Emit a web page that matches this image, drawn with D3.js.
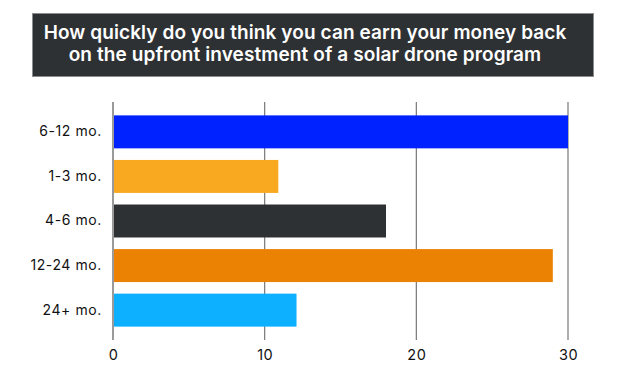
<!DOCTYPE html>
<html>
<head>
<meta charset="utf-8">
<script src="https://cdn.jsdelivr.net/npm/d3@7"></script>
<style>
  body { margin: 0; background: #fff; }
  text { font-family: Inter, "Open Sans", sans-serif; }
</style>
</head>
<body>
<div id="chart"></div>
<script>
// data
const categories = ["6-12 mo.", "1-3 mo.", "4-6 mo.", "12-24 mo.", "24+ mo."];
const values = [30, 10.9, 18, 29, 12.1];
const barColors = ["#0022ff", "#f8a920", "#2e3134", "#ec8204", "#0db0ff"];
const tickValues = [0, 10, 20, 30];
const titleLines = [
  "How quickly do you think you can earn your money back",
  "on the upfront investment of a solar drone program"
];

const svgWidth = 624;
const svgHeight = 379;
const margin = { top: 102, right: 56, bottom: 39, left: 113 };
const width = svgWidth - margin.left - margin.right;
const height = svgHeight - margin.top - margin.bottom;

const svg = d3.select("#chart")
  .append("svg")
  .attr("width", svgWidth)
  .attr("height", svgHeight);

// title box
svg.append("rect")
  .attr("x", 32.5)
  .attr("y", 13.5)
  .attr("width", 561)
  .attr("height", 63)
  .attr("fill", "#2e3134")
  .attr("stroke", "#8a8c8e")
  .attr("stroke-width", 1);

svg.selectAll(".title")
  .data(titleLines)
  .enter()
  .append("text")
  .attr("class", "title")
  .attr("x", 305)
  .attr("y", (d, i) => 39 + i * 22)
  .attr("text-anchor", "middle")
  .attr("fill", "#fff")
  .attr("font-size", "19px")
  .attr("font-weight", 600)
  .attr("letter-spacing", "0.1px")
  .text(d => d);

const chart = svg.append("g")
  .attr("transform", `translate(${margin.left}, ${margin.top})`);

const x = d3.scaleLinear()
  .domain([0, 30])
  .range([0, 455]);

const y = d3.scaleBand()
  .domain(categories)
  .range([0, height])
  .paddingInner(0.26)
  .paddingOuter(0.3);

// gridlines
chart.selectAll(".grid")
  .data(tickValues)
  .enter()
  .append("line")
  .attr("class", "grid")
  .attr("x1", d => x(d))
  .attr("x2", d => x(d))
  .attr("y1", 0)
  .attr("y2", height)
  .attr("stroke", d => d === 0 ? "#9a9a9a" : "#777")
  .attr("stroke-width", d => d === 0 ? 2 : 1.2);

// bars
chart.selectAll(".bar")
  .data(values)
  .enter()
  .append("rect")
  .attr("class", "bar")
  .attr("x", x(0) + 1)
  .attr("y", (d, i) => y(categories[i]))
  .attr("width", d => x(d) - x(0) - 1)
  .attr("height", y.bandwidth())
  .attr("fill", (d, i) => barColors[i]);

// x axis labels
const xAxis = chart.append("g")
  .attr("transform", `translate(0, ${height})`)
  .call(d3.axisBottom(x).tickValues(tickValues).tickSize(0).tickPadding(10));
xAxis.select(".domain").remove();
xAxis.selectAll("text")
  .attr("font-size", "14.5px")
  .attr("fill", "#111")
  .attr("letter-spacing", "0.5px")
  .style("font-family", "Inter, sans-serif");

// y axis labels
const yAxis = chart.append("g")
  .call(d3.axisLeft(y).tickSize(0).tickPadding(11));
yAxis.select(".domain").remove();
yAxis.selectAll("text")
  .attr("font-size", "14px")
  .attr("fill", "#111")
  .attr("letter-spacing", "0.6px")
  .style("font-family", "Inter, sans-serif");
</script>
</body>
</html>
